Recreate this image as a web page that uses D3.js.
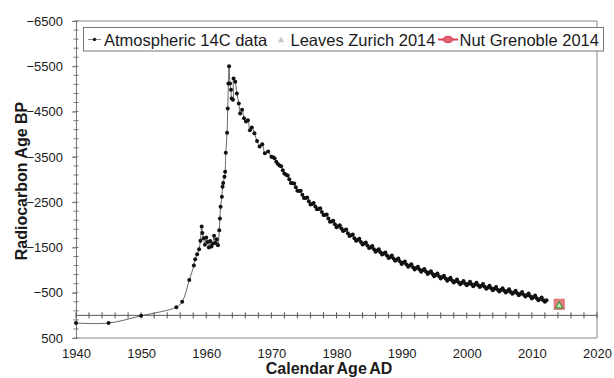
<!DOCTYPE html>
<html>
<head>
<meta charset="utf-8">
<script src="https://cdn.jsdelivr.net/npm/d3@7"></script>
<style>
  html, body { margin: 0; padding: 0; background: #fff; }
  svg { display: block; }
  text { font-family: "Liberation Sans", Arial, sans-serif; }
</style>
</head>
<body>
<svg id="chart" width="614" height="378"></svg>
<script>
// ---- data ----
const xTicks = [1940, 1950, 1960, 1970, 1980, 1990, 2000, 2010, 2020];
const yTicks = [-6500, -5500, -4500, -3500, -2500, -1500, -500, 500];

const atmYears = [
  1940.0, 1945.0, 1950.0, 1955.4, 1956.3, 1957.4, 1958.1, 1958.3, 1958.6, 1958.9,
  1959.1, 1959.3, 1959.4, 1959.6, 1959.8, 1960.0, 1960.2, 1960.4, 1960.6, 1960.8,
  1961.0, 1961.2, 1961.4, 1961.6, 1961.8, 1962.0, 1962.1, 1962.2, 1962.4, 1962.5,
  1962.6, 1962.8, 1962.9, 1963.0, 1963.2, 1963.3, 1963.4, 1963.5, 1963.65, 1963.8,
  1963.9, 1964.1, 1964.2, 1964.45, 1964.7, 1965.0, 1965.2, 1965.5, 1965.8, 1966.1,
  1966.4, 1966.7, 1967.0, 1967.4, 1967.8, 1968.2, 1968.6, 1969.0, 1969.5,
  1970.0, 1970.25, 1970.5, 1970.75,
  1971.0, 1971.25, 1971.5, 1971.75,
  1972.0, 1972.25, 1972.5, 1972.75,
  1973.0, 1973.25, 1973.5, 1973.75,
  1974.0, 1974.25, 1974.5, 1974.75,
  1975.0, 1975.25, 1975.5, 1975.75,
  1976.0, 1976.25, 1976.5, 1976.75,
  1977.0, 1977.25, 1977.5, 1977.75,
  1978.0, 1978.25, 1978.5, 1978.75,
  1979.0, 1979.25, 1979.5, 1979.75,
  1980.0, 1980.25, 1980.5, 1980.75,
  1981.0, 1981.25, 1981.5, 1981.75,
  1982.0, 1982.25, 1982.5, 1982.75,
  1983.0, 1983.25, 1983.5, 1983.75,
  1984.0, 1984.25, 1984.5, 1984.75,
  1985.0, 1985.25, 1985.5, 1985.75,
  1986.0, 1986.25, 1986.5, 1986.75,
  1987.0, 1987.25, 1987.5, 1987.75,
  1988.0, 1988.25, 1988.5, 1988.75,
  1989.0, 1989.25, 1989.5, 1989.75,
  1990.0, 1990.25, 1990.5, 1990.75,
  1991.0, 1991.25, 1991.5, 1991.75,
  1992.0, 1992.25, 1992.5, 1992.75,
  1993.0, 1993.25, 1993.5, 1993.75,
  1994.0, 1994.25, 1994.5, 1994.75,
  1995.0, 1995.25, 1995.5, 1995.75,
  1996.0, 1996.25, 1996.5, 1996.75,
  1997.0, 1997.25, 1997.5, 1997.75,
  1998.0, 1998.25, 1998.5, 1998.75,
  1999.0, 1999.25, 1999.5, 1999.75,
  2000.0, 2000.25, 2000.5, 2000.75,
  2001.0, 2001.25, 2001.5, 2001.75,
  2002.0, 2002.25, 2002.5, 2002.75,
  2003.0, 2003.25, 2003.5, 2003.75,
  2004.0, 2004.25, 2004.5, 2004.75,
  2005.0, 2005.25, 2005.5, 2005.75,
  2006.0, 2006.25, 2006.5, 2006.75,
  2007.0, 2007.25, 2007.5, 2007.75,
  2008.0, 2008.25, 2008.5, 2008.75,
  2009.0, 2009.25, 2009.5, 2009.75,
  2010.0, 2010.25, 2010.5, 2010.75,
  2011.0, 2011.25, 2011.5, 2011.75,
  2012.0, 2012.25
];
const atmAges = [
  170, 170, 10, -180, -300, -780, -1100, -1240, -1350, -1460,
  -1650, -1960, -1820, -1700, -1560, -1720, -1620, -1500, -1640, -1520,
  -1580, -1760, -1600, -1680, -1550, -1880, -2140, -2400, -2620, -2840,
  -2920, -3060, -3170, -3590, -4030, -4570, -5120, -5500, -5120, -4980,
  -4790, -4760, -5230, -5160, -4900, -4680, -4460, -4540, -4350, -4280,
  -4310, -4090, -4150, -4020, -3850, -3730, -3780, -3580, -3620,
  -3500, -3490, -3470, -3390,
  -3340, -3310, -3290, -3205,
  -3130, -3105, -3090, -3005,
  -2920, -2915, -2910, -2830,
  -2750, -2745, -2750, -2665,
  -2590, -2590, -2600, -2520,
  -2450, -2460, -2480, -2405,
  -2345, -2350, -2365, -2280,
  -2215, -2215, -2225, -2140,
  -2065, -2075, -2090, -2010,
  -1945, -1965, -1990, -1920,
  -1865, -1880, -1895, -1815,
  -1755, -1770, -1785, -1705,
  -1645, -1665, -1690, -1620,
  -1565, -1585, -1610, -1540,
  -1485, -1505, -1530, -1460,
  -1405, -1430, -1460, -1395,
  -1345, -1365, -1390, -1320,
  -1265, -1290, -1320, -1255,
  -1205, -1230, -1255, -1190,
  -1135, -1160, -1190, -1125,
  -1075, -1100, -1130, -1065,
  -1015, -1045, -1075, -1012,
  -965, -995, -1025, -962,
  -915, -945, -975, -912,
  -865, -895, -925, -862,
  -815, -845, -875, -812,
  -765, -795, -830, -770,
  -725, -755, -790, -730,
  -685, -720, -760, -705,
  -665, -700, -740, -685,
  -645, -680, -720, -665,
  -625, -655, -690, -630,
  -585, -617, -655, -597,
  -555, -587, -625, -567,
  -525, -560, -600, -545,
  -505, -537, -575, -517,
  -475, -507, -545, -487,
  -445, -477, -515, -457,
  -415, -445, -480, -420,
  -375, -405, -440, -380,
  -335, -362, -395, -335,
  -300, -335
];

const leavesYear = [2014.2];
const leavesAge = [-210];
const nutYear = [2014.2];
const nutAge = [-245];

const legendLabels = ["Atmospheric 14C data", "Leaves Zurich 2014", "Nut Grenoble 2014"];

// ---- layout ----
const svg = d3.select("#chart");
const L = 76, R = 597, T = 21, B = 338;
const x = d3.scaleLinear().domain([1940, 2020]).range([L, R]);
const y = d3.scaleLinear().domain([-6500, 500]).range([T, B]);

const textCol = "#1a1a1a";
const axisCol = "#777";

// plot frame (top, right, bottom)
svg.append("path")
  .attr("d", `M${L},${T}H${R}V${B}H${L}`)
  .attr("fill", "none").attr("stroke", "#8a8a8a").attr("stroke-width", 1);

// left axis with labels
const yAxis = d3.axisLeft(y).tickValues(yTicks).tickSize(4).tickPadding(9)
  .tickFormat(d3.format("d"));
const gy = svg.append("g").attr("transform", `translate(${L},0)`).call(yAxis);
gy.select(".domain").attr("stroke", axisCol);
gy.selectAll(".tick line").attr("stroke", axisCol);
gy.selectAll("text").attr("font-size", 13).attr("fill", textCol)
  .attr("font-family", "'Liberation Sans', Arial, sans-serif");

// minor ticks on left axis (every 200)
const yMinor = d3.range(-6500, 501, 200);
svg.append("g").selectAll("line").data(yMinor).join("line")
  .attr("x1", L - 2.5).attr("x2", L + 2.5)
  .attr("y1", d => y(d)).attr("y2", d => y(d))
  .attr("stroke", axisCol).attr("stroke-width", 1);

// bottom labels
const xAxis = d3.axisBottom(x).tickValues(xTicks).tickSize(0).tickPadding(11)
  .tickFormat(d3.format("d"));
const gx = svg.append("g").attr("transform", `translate(0,${B})`).call(xAxis);
gx.select(".domain").remove();
gx.selectAll("text").attr("font-size", 13).attr("fill", textCol)
  .attr("font-family", "'Liberation Sans', Arial, sans-serif");

// zero line with crossing ticks every 2 years
svg.append("line")
  .attr("x1", L).attr("x2", R).attr("y1", y(0)).attr("y2", y(0))
  .attr("stroke", "#555").attr("stroke-width", 1);
const xMinor = d3.range(1940, 2021, 2);
svg.append("g").selectAll("line").data(xMinor).join("line")
  .attr("x1", d => x(d)).attr("x2", d => x(d))
  .attr("y1", y(0) - 3).attr("y2", y(0) + 3)
  .attr("stroke", "#555").attr("stroke-width", 1);

// atmospheric data
const atm = atmYears.map((yr, i) => [yr, atmAges[i]]);
svg.append("path")
  .datum(atm)
  .attr("fill", "none").attr("stroke", "#555").attr("stroke-width", 0.9)
  .attr("d", d3.line().x(d => x(d[0])).y(d => y(d[1])).curve(d3.curveCatmullRom.alpha(0.5)));
svg.append("g").selectAll("circle").data(atm).join("circle")
  .attr("cx", d => x(d[0])).attr("cy", d => y(d[1])).attr("r", 2)
  .attr("fill", "#111");

// Nut Grenoble (red square)
const nut = nutYear.map((yr, i) => [yr, nutAge[i]]);
svg.append("g").selectAll("rect").data(nut).join("rect")
  .attr("x", d => x(d[0]) - 5).attr("y", d => y(d[1]) - 5)
  .attr("width", 10).attr("height", 10)
  .attr("fill", "#e68080").attr("stroke", "#de6a6a").attr("stroke-width", 1);

// Leaves Zurich (triangle)
const leaves = leavesYear.map((yr, i) => [yr, leavesAge[i]]);
svg.append("g").selectAll("path").data(leaves).join("path")
  .attr("transform", d => `translate(${x(d[0])},${y(d[1])})`)
  .attr("d", d3.symbol(d3.symbolTriangle, 22)())
  .attr("fill", "#cfe8c0").attr("stroke", "#3f9a45").attr("stroke-width", 1.2);

// legend
const lg = svg.append("g");
lg.append("rect").attr("x", 83.5).attr("y", 27.5).attr("width", 520).attr("height", 23.5)
  .attr("fill", "#fff").attr("stroke", "#777").attr("stroke-width", 1);
const ly = 39.5;
lg.append("line").attr("x1", 88).attr("x2", 101).attr("y1", ly).attr("y2", ly)
  .attr("stroke", "#666").attr("stroke-width", 0.8);
lg.append("circle").attr("cx", 94.5).attr("cy", ly).attr("r", 1.7).attr("fill", "#151515");
lg.append("path").attr("transform", `translate(281,${ly + 1})`)
  .attr("d", d3.symbol(d3.symbolTriangle, 18)()).attr("fill", "#c8c8c8");
lg.append("line").attr("x1", 438).attr("x2", 458).attr("y1", ly).attr("y2", ly)
  .attr("stroke", "#d9435a").attr("stroke-width", 2);
lg.append("ellipse").attr("cx", 448).attr("cy", ly).attr("rx", 5).attr("ry", 3.2)
  .attr("fill", "#e0606e").attr("stroke", "#d9435a");
const lx = [104, 290.5, 459.5];
lg.selectAll("text.lt").data(legendLabels).join("text")
  .attr("class", "lt")
  .attr("x", (d, i) => lx[i]).attr("y", ly + 6)
  .attr("font-size", 16.5).attr("fill", textCol)
  .text(d => d);

// axis titles
svg.append("text")
  .attr("transform", `translate(27,181) rotate(-90)`)
  .attr("text-anchor", "middle").attr("font-size", 16).attr("font-weight", "bold")
  .attr("fill", textCol).text("Radiocarbon Age BP");
svg.append("text")
  .attr("x", 329).attr("y", 374)
  .attr("text-anchor", "middle").attr("font-size", 16).attr("font-weight", "bold")
  .attr("fill", textCol).attr("word-spacing", -1.5).text("Calendar Age AD");
</script>
</body>
</html>
